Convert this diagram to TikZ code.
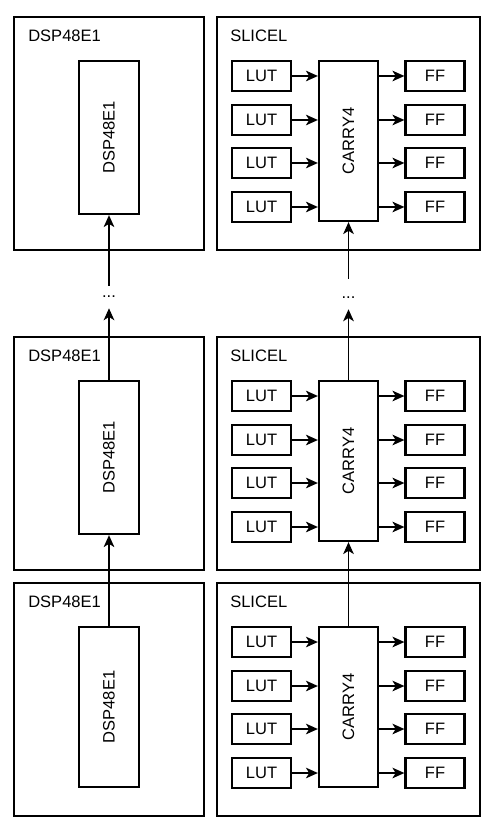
\documentclass[tikz,border=0pt]{standalone}
\usepackage{fontspec}
\setmainfont{Liberation Sans}
\usepackage{graphicx}
\usetikzlibrary{arrows.meta, positioning}

\begin{document}
\begin{tikzpicture}[x=0.75pt, y=-0.75pt, every node/.style={font=\fontsize{12.4}{14}\selectfont},
      dsptile/.style={rectangle, draw, line width=1.7pt, minimum width=142.5pt, minimum height=174.75pt},
      slicetile/.style={rectangle, draw, line width=1.7pt, minimum width=197.25pt, minimum height=174.75pt},
      dspblock/.style={rectangle, draw, line width=1.7pt, minimum width=45pt, inner sep=0pt},
      carryblock/.style={rectangle, draw, line width=1.7pt, minimum width=44.25pt, minimum height=120pt, inner sep=0pt},
      cell/.style={rectangle, draw, line width=1.7pt, minimum width=44.25pt, minimum height=22.5pt, inner sep=0pt},
      title/.style={anchor=west, inner sep=0pt},
      dots/.style={inner sep=0pt, minimum height=16.5pt},
      wire/.style={-{Stealth[length=9pt, width=8pt, inset=2.5pt]}, line width=1pt}]

      \useasboundingbox (0,0) rectangle (495,830);

      % Tiles: name / top edge / height of the DSP block
      \foreach \r/\t/\h in {a/17/153, b/337/153, c/583/160} {
        \node[dsptile] (dsptile\r) at (109, \t+116.5) {};
        \node[slicetile] (slicetile\r) at (348.5, \t+116.5) {};
        \node[title] (dsptitle\r) at (28, \t+19) {DSP48E1};
        \node[title] (slicetitle\r) at (230, \t+19) {SLICEL};

        \node[dspblock, minimum height=\h*0.75pt] (dsp\r) at (109, \t+44+\h/2) {\rotatebox{90}{DSP48E1}};
        \node[carryblock] (carry\r) at (348.5, \t+124) {\rotatebox{90}{CARRY4}};

        \foreach \i/\dy in {1/59, 2/103, 3/146, 4/190} {
          \node[cell] (lut\r\i) at (261.5, \t+\dy) {LUT};
          \node[cell] (ff\r\i) at (435, \t+\dy) {FF};
          \draw[wire] (lut\r\i.east) -- (lut\r\i.east -| carry\r.west);
          \draw[wire] (ff\r\i.west -| carry\r.east) -- (ff\r\i.west);
        }
      }

      % Cascade chains
      \node[dots] (dspdots) at (109, 297) {...};
      \node[dots] (carrydots) at (348.5, 298) {...};

      \draw[wire] (dspc.north) -- (dspb.south);
      \draw[wire] (dspb.north) -- (dspdots.south);
      \draw[wire] (dspdots.north) -- (dspa.south);

      \draw[wire] (carryc.north) -- (carryb.south);
      \draw[wire] (carryb.north) -- (carrydots.south);
      \draw[wire] ([yshift=6pt]carrydots.north) -- (carrya.south);
    \end{tikzpicture}
\end{document}
